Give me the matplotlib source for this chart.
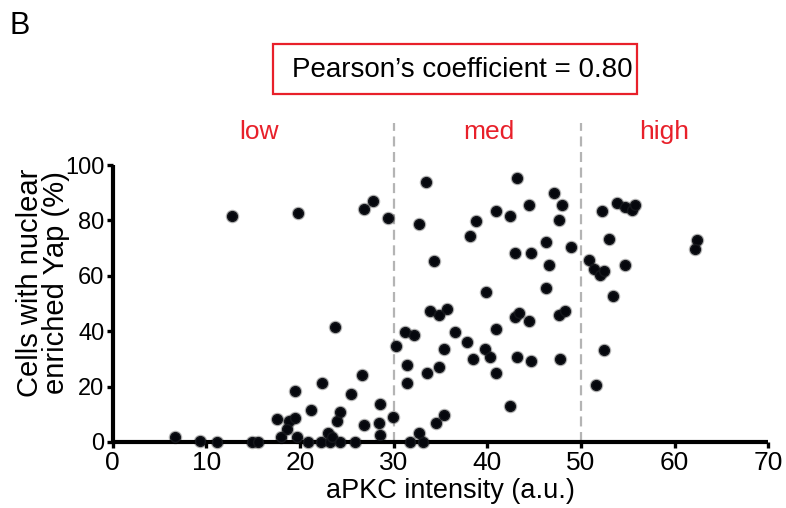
import matplotlib
matplotlib.use("Agg")
import matplotlib.pyplot as plt
from matplotlib.patches import Rectangle

plt.rcParams['font.family'] = ['Liberation Sans', 'DejaVu Sans']

apkc = [6.7, 9.3, 11.1, 14.9, 15.5, 12.7, 19.75, 23.7, 22.3, 19.5, 21.2, 17.5, 18.8, 19.5,
        18.6, 18.0, 19.7, 20.9, 22.2, 23.2, 23.0, 23.4, 23.9, 24.3, 24.3, 25.9, 25.4, 26.6,
        26.8, 28.4, 28.5, 28.5, 29.9, 31.7, 33.1, 32.7, 34.5, 35.4, 26.8, 27.8, 29.4, 33.45,
        32.7, 34.3, 31.4, 33.6, 31.45, 34.8, 30.3, 31.2, 32.2, 33.9, 34.8, 35.7, 35.4, 36.5,
        37.8, 38.5, 39.8, 40.3, 40.9, 40.9, 39.9, 38.1, 38.8, 40.9, 42.45, 43.2, 44.45, 43.0,
        44.7, 43.0, 43.4, 44.5, 43.2, 44.7, 42.45, 46.3, 46.6, 46.3, 47.15, 48.0, 47.6, 48.9,
        47.6, 48.3, 47.8, 52.2, 53.8, 54.7, 55.4, 55.8, 52.95, 50.9, 51.4, 52.0, 52.5, 54.7,
        53.4, 52.5, 51.6, 62.4, 62.2]
yap = [1.9, 0.5, 0.0, 0.0, 0.0, 81.7, 82.6, 41.4, 21.2, 18.3, 11.4, 8.4, 7.7, 8.6,
       4.8, 1.8, 1.8, 0.0, 0.0, 0.0, 3.3, 1.8, 7.7, 10.8, 0.0, 0.0, 17.5, 24.2,
       6.3, 7.0, 13.8, 2.5, 9.1, 0.0, 0.0, 3.2, 7.0, 9.9, 84.0, 87.0, 80.9, 93.9,
       78.7, 65.5, 21.2, 24.9, 27.8, 27.1, 34.7, 39.7, 38.5, 47.3, 45.8, 48.0, 33.7, 39.7,
       36.1, 30.1, 33.7, 30.8, 25.0, 40.7, 54.2, 74.4, 79.7, 83.3, 81.7, 95.2, 85.7, 68.3,
       68.3, 45.0, 46.7, 43.7, 30.8, 29.4, 13.0, 72.1, 63.8, 55.6, 90.0, 85.6, 80.3, 70.4,
       45.8, 47.3, 30.1, 83.4, 86.4, 84.7, 83.8, 85.7, 73.4, 65.6, 62.3, 60.2, 61.6, 63.8,
       52.6, 33.1, 20.5, 72.9, 69.7]

xticks = [0, 10, 20, 30, 40, 50, 60, 70]
yticks = [0, 20, 40, 60, 80, 100]
thresholds = [30, 50]
groups = ["low", "med", "high"]
group_x = [15.65, 40.2, 58.9]

W, H = 786, 508
fig = plt.figure(figsize=(W / 100, H / 100), dpi=100)
ax = fig.add_axes([112.7 / W, 1 - 442 / H, (768.3 - 112.7) / W, (442 - 165) / H])

red = '#e8202a'

for t in thresholds:
    ax.plot([t, t], [0, 115], color='#b4b4b4', lw=1.6, ls=(0, (4.5, 2.5)),
            clip_on=False, zorder=1)

ax.scatter(apkc, yap, s=95, color='#101010', alpha=0.3, linewidths=0, clip_on=False, zorder=2)
ax.scatter(apkc, yap, s=50, color='#05070d', edgecolors='#15171c', linewidths=1.0,
           clip_on=False, zorder=3)

ax.set_xlim(0, 70)
ax.set_ylim(0, 100)
ax.set_xticks(xticks)
ax.set_yticks(yticks)
for s in ['top', 'right']:
    ax.spines[s].set_visible(False)
for s in ['left', 'bottom']:
    ax.spines[s].set_linewidth(3.0)
    ax.spines[s].set_capstyle('butt')
ax.tick_params(axis='both', which='major', length=4, width=2.4, direction='out', color='black')
ax.tick_params(axis='x', labelsize=19, pad=2.5)
ax.tick_params(axis='y', labelsize=17, pad=2)

ax.set_xlabel('aPKC intensity (a.u.)', fontsize=19.5)
ax.xaxis.label.set_va('baseline')
ax.xaxis.set_label_coords((450.8 - 112.7) / (768.3 - 112.7), (442 - 498.3) / 277)

ax.set_ylabel('Cells with nuclear\nenriched Yap (%)', fontsize=21, linespacing=0.9)
ax.yaxis.label.set_va('center')
ax.yaxis.set_label_coords(-(112.7 - 43) / (768.3 - 112.7), (442 - 283) / 277)

for g, gx in zip(groups, group_x):
    ax.text(gx, 109.3, g, color=red, fontsize=19, ha='center', va='baseline', clip_on=False)

fig.patches.append(Rectangle((273.3 / W, 1 - 94.3 / H), (636.7 - 273.3) / W, (94.3 - 44) / H,
                             transform=fig.transFigure, facecolor='white', edgecolor=red,
                             linewidth=1.6))
fig.text(291.7 / W, 1 - 77.3 / H, 'Pearson\u2019s coefficient = 0.80', fontsize=20,
         ha='left', va='baseline')

fig.text(10 / W, 1 - 34.3 / H, 'B', fontsize=22, ha='left', va='baseline')

fig.savefig('out.png', dpi=100)
